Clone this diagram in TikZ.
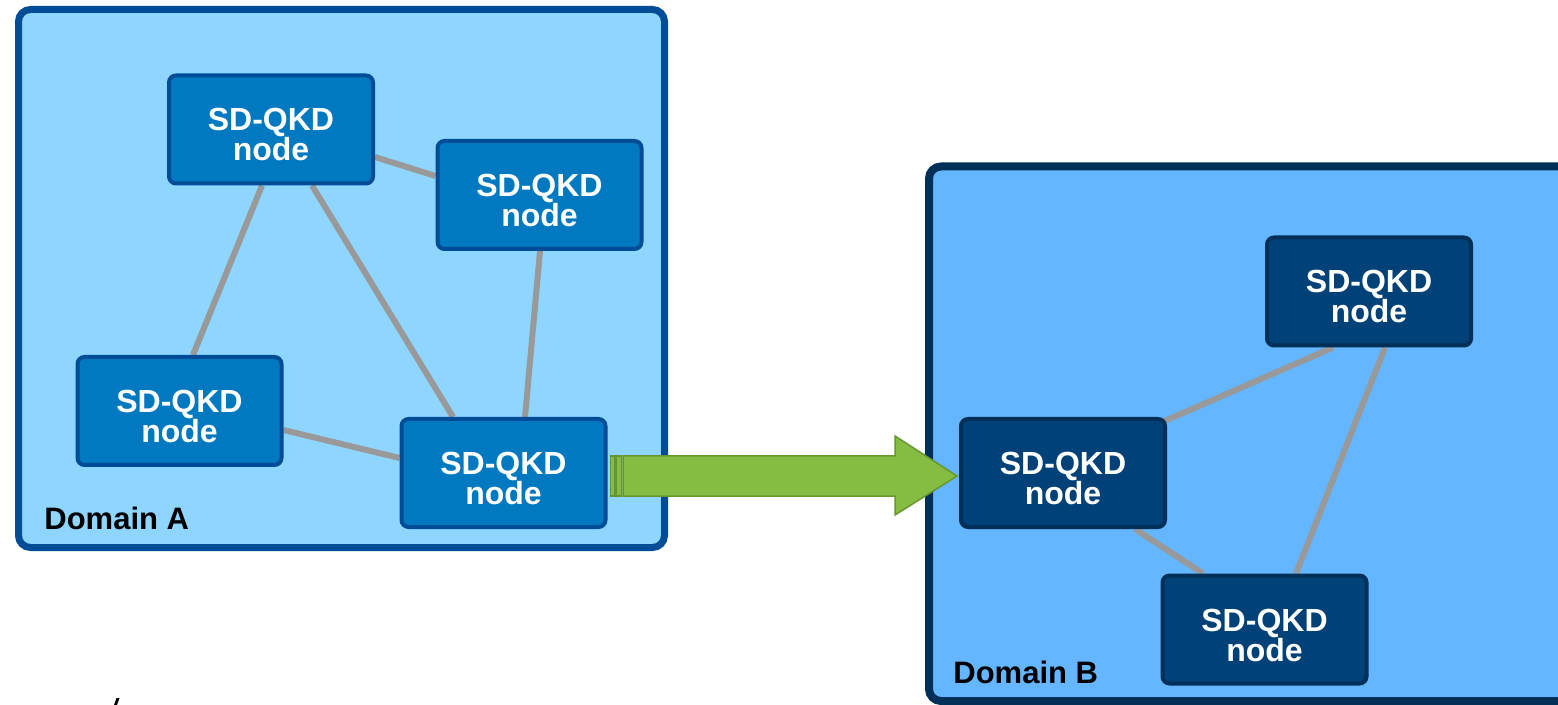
\documentclass[tikz,border=0pt]{standalone}
\usepackage{fontspec}
\setmainfont{Liberation Sans}
\usetikzlibrary{calc}
\definecolor{domAfill}{RGB}{142,214,255}
\definecolor{domAline}{RGB}{0,76,151}
\definecolor{domBfill}{RGB}{99,182,255}
\definecolor{domBline}{RGB}{0,48,87}
\definecolor{nodeAfill}{RGB}{0,121,193}
\definecolor{nodeBfill}{RGB}{0,65,120}
\definecolor{linkgray}{RGB}{153,153,153}
\definecolor{arrowfill}{RGB}{132,189,66}
\definecolor{arrowline}{RGB}{104,150,46}
\pgfdeclarelayer{domains}
\pgfdeclarelayer{links}
\pgfsetlayers{domains,links,main}
\tikzset{
  qkd/.style={rectangle, rounded corners=3.5pt, line width=2pt, minimum width=102pt, minimum height=54pt,
    inner sep=0pt, align=center, text=white, text height=31.5pt, text depth=0pt,
    font=\fontsize{16}{15}\selectfont\bfseries},
  qkdA/.style={qkd, fill=nodeAfill, draw=domAline},
  qkdB/.style={qkd, fill=nodeBfill, draw=domBline},
  link/.style={draw=linkgray, line width=3pt},
  domlabel/.style={anchor=base west, inner sep=0pt, font=\fontsize{15.5}{15.5}\selectfont\bfseries},
  bigarrow/.style={fill=arrowfill, draw=arrowline, line width=0.75pt, line join=miter},
}
\begin{document}
\begin{tikzpicture}[x=0.5pt, y=-0.5pt]
\useasboundingbox (0,0) rectangle (1558,705);
\clip (0,0) rectangle (1558,705);

% domains
\begin{pgfonlayer}{domains}
  \draw[fill=domAfill, draw=domAline, line width=3.5pt, rounded corners=6pt]
    (18.5,9.5) rectangle (664.5,547.5);
  \draw[fill=domBfill, draw=domBline, line width=4pt, rounded corners=6pt]
    (929,166.5) rectangle (1600,701);
\end{pgfonlayer}

% SD-QKD nodes, domain A
\node[qkdA] (n1) at (271,129.5) {SD-QKD\\node};
\node[qkdA] (n2) at (539.5,195) {SD-QKD\\node};
\node[qkdA] (n3) at (179.5,411) {SD-QKD\\node};
\node[qkdA] (n4) at (503.5,473) {SD-QKD\\node};
% SD-QKD nodes, domain B
\node[qkdB] (n5) at (1369,291.5) {SD-QKD\\node};
\node[qkdB] (n6) at (1063,473) {SD-QKD\\node};
\node[qkdB] (n7) at (1264.5,629.5) {SD-QKD\\node};

% domain labels
\node[domlabel] (labA) at (44,529) {Domain A};
\node[domlabel] (labB) at (953,683) {Domain B};

% quantum links
\begin{pgfonlayer}{links}
  \draw[link] ($(n1.east)+(0,27.5)$) -- ($(n2.west)+(0,-19)$);
  \draw[link] ($(n1.south)+(-9,0)$) -- ($(n3.north)+(13.5,0)$);
  \draw[link] ($(n1.south)+(41,0)$) -- ($(n4.north)+(-50.5,0)$);
  \draw[link] ($(n2.south)+(0.5,0)$) -- ($(n4.north)+(21.5,0)$);
  \draw[link] ($(n3.east)+(0,19)$) -- ($(n4.west)+(0,-15)$);
  \draw[link] ($(n5.south)+(-36,0)$) -- ($(n6.center)+(74,-40)$);
  \draw[link] ($(n5.south)+(16,0)$) -- ($(n7.north)+(31.5,0)$);
  \draw[link] ($(n6.south)+(72,0)$) -- ($(n7.north)+(-61.5,0)$);
\end{pgfonlayer}

% inter-domain striped arrow
\coordinate (as) at ($(n4.east)+(15.5,3)$);
\coordinate (at) at ($(n6.west)+(-2,3)$);
\draw[bigarrow] ($(as)+(0,-20)$) -- ($(at)+(-62,-20)$) -- ($(at)+(-62,-40)$) -- (at)
  -- ($(at)+(-62,39)$) -- ($(at)+(-62,20)$) -- ($(as)+(0,20)$) -- cycle;
\draw[bigarrow] ($(as)+(-12.5,-20)$) rectangle ($(as)+(-8.5,20)$);
\draw[bigarrow] ($(as)+(-7,-20)$) rectangle ($(as)+(-1.5,20)$);

% fragment at the lower edge
\fill[black] (114,705) -- (116.5,698) -- (119.5,698) -- (117,705) -- cycle;
\end{tikzpicture}
\end{document}
